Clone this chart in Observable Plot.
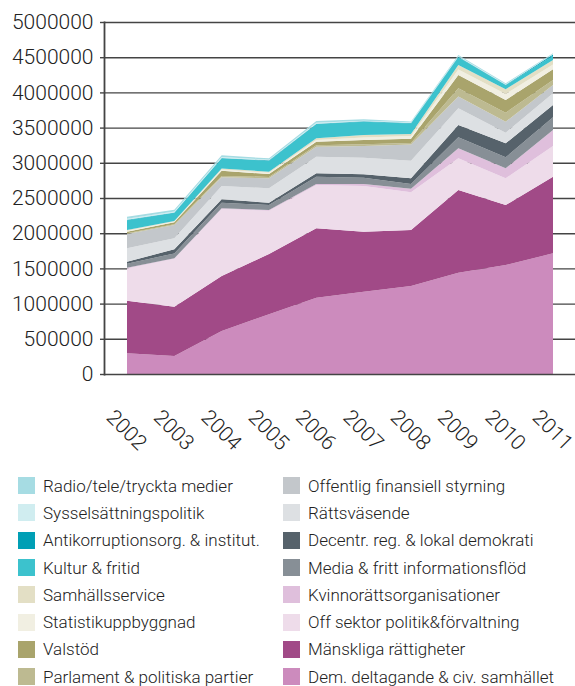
<!DOCTYPE html>
<html>
<head>
<meta charset="utf-8">
<script src="https://cdn.jsdelivr.net/npm/d3@7"></script>
<script src="https://cdn.jsdelivr.net/npm/@observablehq/plot@0.6"></script>
<style>
  html, body { margin: 0; padding: 0; background: #fff; }
  body { width: 575px; font-family: Roboto, "DejaVu Sans", sans-serif; color: #333; }
  #legend { display: grid; grid-template-columns: 265px 292px; padding-left: 18px; padding-top: 12px; }
  .item { display: flex; align-items: center; height: 27.3px; font-size: 17px; font-weight: 300; color: #222; white-space: nowrap; }
  .sw { width: 17px; height: 17px; margin-right: 8px; flex: none; }
</style>
</head>
<body>
<div id="chart"></div>
<div id="legend"></div>
<script>
const years = [2002, 2003, 2004, 2005, 2006, 2007, 2008, 2009, 2010, 2011];
const yTicks = [0, 500000, 1000000, 1500000, 2000000, 2500000, 3000000, 3500000, 4000000, 4500000, 5000000];

// Series names (bottom of stack first)
const names = [
  "Dem. deltagande & civ. samhället",
  "Mänskliga rättigheter",
  "Off sektor politik&förvaltning",
  "Kvinnorättsorganisationer",
  "Media & fritt informationsflöd",
  "Decentr. reg. & lokal demokrati",
  "Rättsväsende",
  "Offentlig finansiell styrning",
  "Parlament & politiska partier",
  "Valstöd",
  "Statistikuppbyggnad",
  "Samhällsservice",
  "Kultur & fritid",
  "Antikorruptionsorg. & institut.",
  "Sysselsättningspolitik",
  "Radio/tele/tryckta medier"
];
const colors = [
  "#cc8bbd", "#a14a87", "#eedcea", "#dfbfdc", "#878f96", "#56626b", "#dde0e3", "#c3c7cb",
  "#bdba91", "#a9a46c", "#f1efe2", "#e3dfc5", "#3cc2cd", "#009fb5", "#d0edf0", "#a6dce3"
];

const demDeltagande   = [295000, 256000, 611000, 850000, 1084000, 1169000, 1250000, 1439000, 1548000, 1714000];
const manskligaRatt   = [745000, 700000, 781000, 855000, 985000, 852000, 795000, 1175000, 852000, 1089000];
const offSektor       = [460000, 680000, 950000, 615000, 615000, 649000, 535000, 449000, 380000, 436000];
const kvinnoratt      = [10000, 7000, 11000, 10000, 15000, 29000, 50000, 143000, 142000, 227000];
const mediaFritt      = [55000, 70000, 80000, 70000, 104000, 90000, 70000, 156000, 156000, 180000];
const decentr         = [30000, 58000, 48000, 33000, 48000, 48000, 80000, 175000, 199000, 175000];
const rattsvasende    = [190000, 156000, 189000, 204000, 236000, 235000, 250000, 237000, 151000, 166000];
const offFinansiell   = [205000, 189000, 123000, 143000, 142000, 167000, 230000, 166000, 156000, 118000];
const parlament       = [10000, 12000, 20000, 20000, 20000, 25000, 20000, 118000, 128000, 71000];
const valstod         = [20000, 27000, 75000, 40000, 51000, 60000, 60000, 189000, 180000, 152000];
const statistik       = [15000, 10000, 17000, 18000, 25000, 36000, 40000, 80000, 85000, 70000];
const samhallsservice = [10000, 8000, 15000, 16000, 23000, 35000, 30000, 62000, 67000, 62000];
const kultur          = [140000, 118000, 143000, 156000, 203000, 189000, 150000, 110000, 60000, 60000];
const antikorruption  = [5000, 4000, 5000, 5000, 5000, 5000, 5000, 7000, 5000, 20000];
const syssel          = [15000, 12000, 13000, 10000, 13000, 10000, 10000, 10000, 8000, 6000];
const radio           = [30000, 25000, 25000, 18000, 25000, 19000, 10000, 15000, 12000, 9000];

const seriesValues = [demDeltagande, manskligaRatt, offSektor, kvinnoratt, mediaFritt, decentr,
  rattsvasende, offFinansiell, parlament, valstod, statistik, samhallsservice, kultur,
  antikorruption, syssel, radio];

const data = [];
names.forEach((n, k) => years.forEach((yr, i) => data.push({year: yr, name: n, value: seriesValues[k][i]})));

const ink = "#444";
const chart = Plot.plot({
  width: 575,
  height: 460,
  marginTop: 22,
  marginBottom: 86,
  marginLeft: 104,
  marginRight: 0,
  style: {fontFamily: "Roboto, sans-serif", fontWeight: 300, color: "#222", background: "#fff"},
  x: {type: "linear", domain: [2002, 2011], range: [127, 553]},
  y: {domain: [0, 5000000]},
  color: {domain: names, range: colors},
  marks: [
    Plot.ruleY(yTicks.slice(1), {stroke: ink, strokeWidth: 1.4}),
    Plot.areaY(data, {x: "year", y: "value", z: "name", fill: "name", order: names}),
    Plot.ruleY([0], {stroke: ink, strokeWidth: 1.4}),
    Plot.frame({anchor: "left", stroke: ink, strokeWidth: 1.8}),
    Plot.axisY({ticks: yTicks, tickSize: 4, tickPadding: 7, tickFormat: d => String(d), fontSize: 21, fontWeight: 300, stroke: ink, strokeWidth: 1.4, label: null}),
    Plot.axisX({ticks: years, tickSize: 0, tickFormat: d => String(d), tickRotate: 45, textAnchor: "middle", lineAnchor: "middle", dy: 44, dx: -1, fontSize: 21, fontWeight: 300, label: null})
  ]
});
document.getElementById("chart").appendChild(chart);

// Legend: two columns of eight
const legendOrder = [
  "Radio/tele/tryckta medier", "Offentlig finansiell styrning",
  "Sysselsättningspolitik", "Rättsväsende",
  "Antikorruptionsorg. & institut.", "Decentr. reg. & lokal demokrati",
  "Kultur & fritid", "Media & fritt informationsflöd",
  "Samhällsservice", "Kvinnorättsorganisationer",
  "Statistikuppbyggnad", "Off sektor politik&förvaltning",
  "Valstöd", "Mänskliga rättigheter",
  "Parlament & politiska partier", "Dem. deltagande & civ. samhället"
];
const legend = document.getElementById("legend");
legendOrder.forEach(n => {
  const it = document.createElement("div");
  it.className = "item";
  const sw = document.createElement("span");
  sw.className = "sw";
  sw.style.background = colors[names.indexOf(n)];
  const tx = document.createElement("span");
  tx.textContent = n;
  it.appendChild(sw);
  it.appendChild(tx);
  legend.appendChild(it);
});
</script>
</body>
</html>
